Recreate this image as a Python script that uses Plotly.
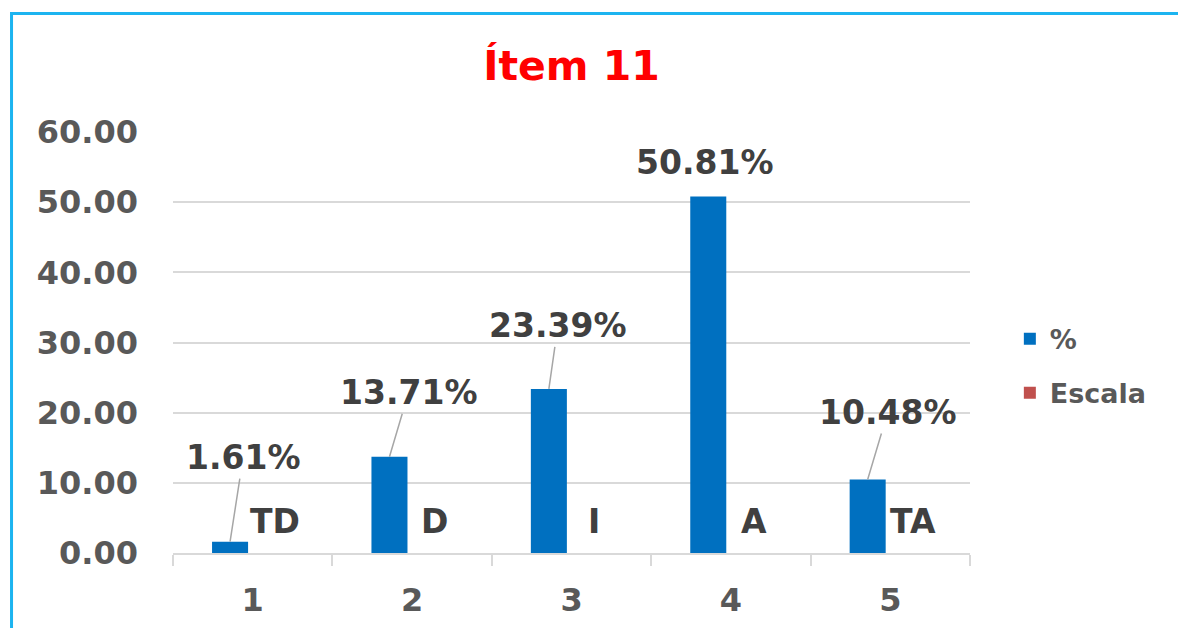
import plotly.graph_objects as go

# data
categories = [1, 2, 3, 4, 5]
pct_values = [1.61, 13.71, 23.39, 50.81, 10.48]
pct_labels = ["1.61%", "13.71%", "23.39%", "50.81%", "10.48%"]
escala_values = [0, 0, 0, 0, 0]
escala_labels = ["TD", "D", "I", "A", "TA"]
y_ticks = [0, 10, 20, 30, 40, 50, 60]
y_tick_text = ["0.00", "10.00", "20.00", "30.00", "40.00", "50.00", "60.00"]

# label placement (pixels) for the % data labels, and whether a leader line shows
label_offsets = [(13, -84), (19, -64), (9, -63), (-4, -34), (20, -67)]
leader_line = [True, True, True, False, True]

FONT = "DejaVu Sans"
BAR_W = 0.226

fig = go.Figure()

fig.add_trace(go.Bar(
    x=categories,
    y=pct_values,
    name="%",
    legendgroup="pct",
    width=BAR_W,
    offset=-0.255,
    marker=dict(color="#0070C0", line=dict(width=0)),
))

fig.add_trace(go.Bar(
    x=categories,
    y=escala_values,
    name="Escala",
    legendgroup="escala",
    width=BAR_W,
    offset=0.03,
    marker=dict(color="#C0504D", line=dict(width=0)),
))

# % data labels with leader lines
for cat, val, txt, (ax, ay), lead in zip(categories, pct_values, pct_labels,
                                         label_offsets, leader_line):
    fig.add_annotation(
        x=cat - 0.255 + BAR_W / 2, y=val,
        text=txt,
        showarrow=True,
        arrowhead=0,
        arrowwidth=1.5,
        arrowcolor="#A6A6A6" if lead else "rgba(0,0,0,0)",
        ax=ax, ay=ay,
        font=dict(family=FONT, size=33, color="#404040", weight="bold"),
    )

# Escala labels
for cat, val, txt in zip(categories, escala_values, escala_labels):
    fig.add_annotation(
        x=cat + 0.03 + BAR_W / 2, y=val,
        text=txt,
        showarrow=False,
        yanchor="middle",
        yshift=32,
        font=dict(family=FONT, size=33, color="#404040", weight="bold"),
    )

# outer chart frame (light blue)
fig.add_shape(
    type="rect", xref="paper", yref="paper",
    x0=-0.2026, x1=1.27, y0=-0.2, y1=1.2815,
    line=dict(color="#1CB4F0", width=3),
    fillcolor="rgba(0,0,0,0)",
    layer="below",
)

fig.update_layout(
    width=1178, height=628,
    margin=dict(l=173, r=208, t=132, b=75),
    paper_bgcolor="white",
    plot_bgcolor="white",
    barmode="overlay",
    title=dict(
        text="Ítem 11",
        x=0.5, xref="paper", xanchor="center",
        y=1 - 66 / 628, yref="container", yanchor="middle",
        font=dict(family=FONT, size=41, color="#FF0000", weight="bold"),
    ),
    legend=dict(
        x=1.05, xanchor="left",
        y=0.444, yanchor="middle",
        font=dict(family=FONT, size=27, color="#595959", weight="bold"),
        tracegroupgap=16,
        traceorder="grouped",
        itemwidth=30,
    ),
    showlegend=True,
)

fig.update_yaxes(
    range=[0, 60],
    tickvals=y_ticks,
    ticktext=y_tick_text,
    showgrid=True,
    gridcolor="#D9D9D9",
    gridwidth=1.5,
    zeroline=False,
    showline=False,
    ticks="",
    ticklabelstandoff=34,
    automargin=False,
    tickfont=dict(family=FONT, size=32, color="#595959", weight="bold"),
)

fig.update_xaxes(
    range=[0.5, 5.5],
    tickvals=categories,
    ticktext=[str(c) for c in categories],
    showgrid=False,
    zeroline=False,
    showline=True,
    linecolor="#D9D9D9",
    linewidth=2,
    ticks="",
    ticklabelstandoff=18,
    automargin=False,
    minor=dict(tick0=0.5, dtick=1, ticks="outside", ticklen=11,
               tickcolor="#D9D9D9", tickwidth=2, showgrid=False),
    tickfont=dict(family=FONT, size=32, color="#595959", weight="bold"),
)

fig.write_html("out.html", config={"displayModeBar": False},
               post_script="document.body.style.margin='0';")
